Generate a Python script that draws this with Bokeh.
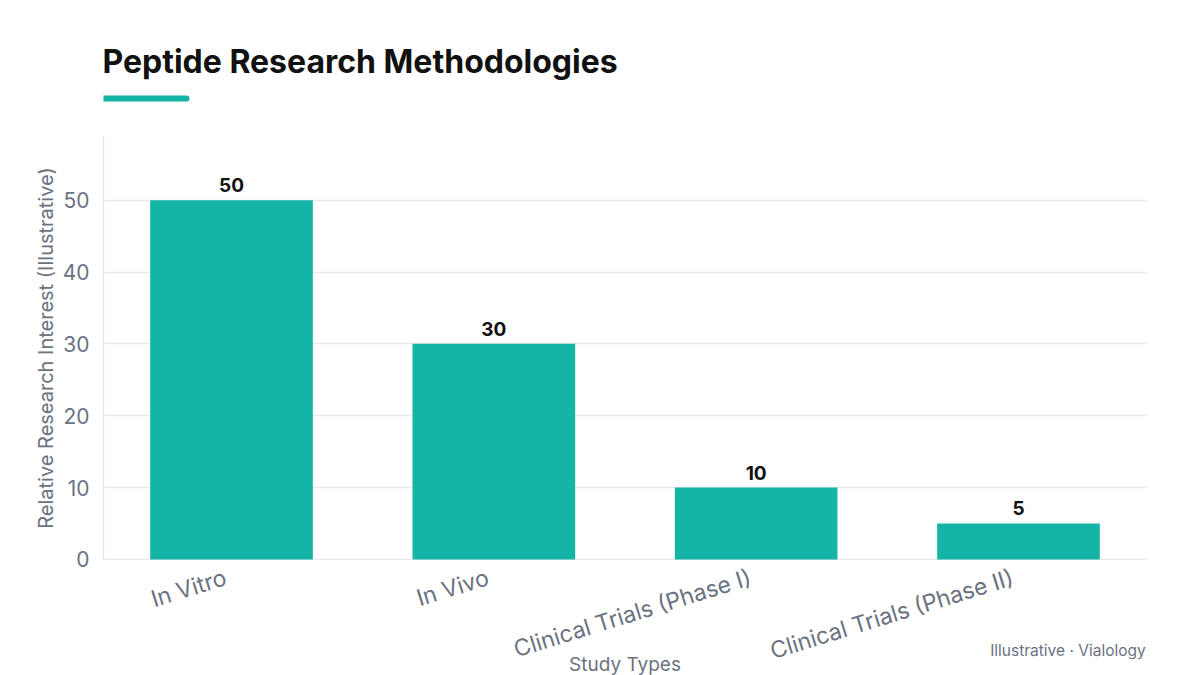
from bokeh.plotting import figure
from bokeh.models import ColumnDataSource, Label
from bokeh.layouts import column
from bokeh.core.properties import value
from bokeh.embed import file_html
from bokeh.resources import INLINE

# chart data
study_types = ["In Vitro", "In Vivo", "Clinical Trials (Phase I)", "Clinical Trials (Phase II)"]
interest = [50, 30, 10, 5]
y_ticks = [0, 10, 20, 30, 40, 50]

TEAL = "#14b4a6"
GREY = "#6b7280"
FONT = "Inter"

# header: title and accent underline, one unit = one pixel (y downwards)
head = figure(frame_width=1043, frame_height=135, x_range=(0, 1043), y_range=(135, 0),
              min_border_left=103, min_border_right=54, min_border_top=0, min_border_bottom=0,
              toolbar_location=None, tools="", output_backend="svg")
head.axis.visible = False
head.grid.visible = False
head.outline_line_color = None
head.text(x=[-1], y=[61], text=["Peptide Research Methodologies"],
          text_font=value(FONT), text_font_style="bold", text_font_size="32px",
          text_color="#111111", text_baseline="alphabetic")
head.line(x=[-1, 83], y=[98, 98], line_width=6, line_cap="round", line_color=TEAL)

source = ColumnDataSource(data={"study": study_types,
                                "interest": interest,
                                "label": [str(v) for v in interest]})

# main plot: bars, y axis; the gridline at 0 doubles as the x axis line
p = figure(x_range=study_types, y_range=(-0.15, 59),
           frame_width=1043, frame_height=425,
           min_border_left=103, min_border_right=54, min_border_top=0, min_border_bottom=8,
           toolbar_location=None, tools="", output_backend="svg")

p.vbar(x="study", top="interest", width=0.62, source=source,
       fill_color=TEAL, line_color=None)
p.text(x="study", y="interest", text="label", source=source,
       text_align="center", text_baseline="bottom", y_offset=-8,
       text_font=value(FONT), text_font_style="bold", text_font_size="19px",
       text_color="#111111")

p.x_range.range_padding = -0.006
p.xaxis.visible = False
p.outline_line_color = None
p.xgrid.grid_line_color = None
p.ygrid.grid_line_color = "#e6eaea"
p.ygrid.grid_line_width = 1.5

p.yaxis.ticker = y_ticks
p.yaxis.axis_line_color = "#e5e9e9"
p.yaxis.axis_line_width = 1.5
p.yaxis.major_tick_line_color = None
p.yaxis.minor_tick_line_color = None
p.yaxis.major_label_text_font = FONT
p.yaxis.major_label_text_color = GREY
p.yaxis.major_label_text_font_size = "21px"
p.yaxis.major_label_standoff = 8
p.yaxis.axis_label = "Relative Research Interest (Illustrative)"
p.yaxis.axis_label_text_font = FONT
p.yaxis.axis_label_text_color = GREY
p.yaxis.axis_label_text_font_style = "normal"
p.yaxis.axis_label_text_font_size = "20px"
p.yaxis.axis_label_standoff = 2

# footer: slanted category labels, x axis title and footnote
# (y in pixels below the bar baseline, downwards)
foot = figure(x_range=p.x_range, y_range=(115, 8),
              frame_width=1043, frame_height=107,
              min_border_left=103, min_border_right=54, min_border_top=0, min_border_bottom=0,
              toolbar_location=None, tools="", output_backend="svg")
foot.axis.visible = False
foot.grid.visible = False
foot.outline_line_color = None

foot.text(x="study", y=3, text="study", source=source, angle=0.3,
          text_align="right", text_baseline="top", x_offset=-10,
          text_font=value(FONT), text_font_size="23px", text_color=GREY)
foot.add_layout(Label(x=2.0, y=104, text="Study Types", text_font=FONT,
                      text_font_size="19px", text_color=GREY,
                      text_align="center", text_baseline="middle"))
foot.add_layout(Label(x=3.985, y=90, text="Illustrative · Vialology", text_font=FONT,
                      text_font_size="15.5px", text_color=GREY,
                      text_align="right", text_baseline="middle"))

layout = column(head, p, foot, spacing=0)
open("out.html", "w").write(file_html(layout, INLINE))
